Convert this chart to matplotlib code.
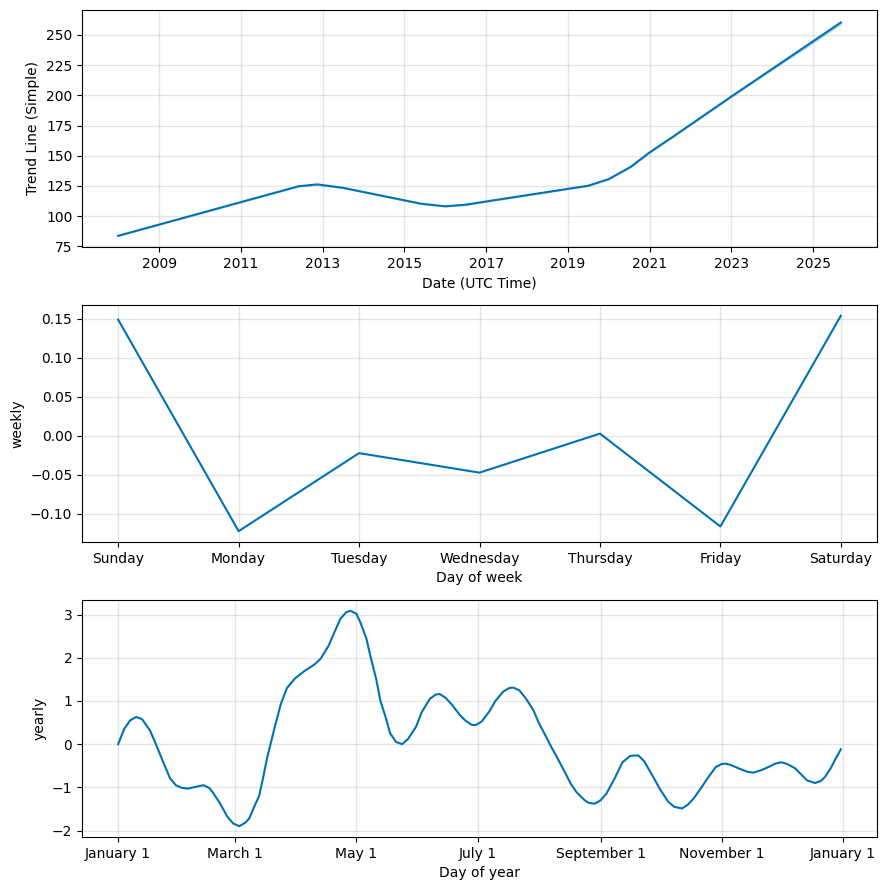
import matplotlib
matplotlib.use("Agg")
import matplotlib.pyplot as plt
import matplotlib.dates as mdates
import matplotlib.ticker as mticker
import pandas as pd

# trend component
trend_dates = ["2008-01-01", "2012-06-01", "2012-11-15", "2013-07-01", "2015-06-01",
               "2016-01-01", "2016-07-01", "2017-01-01", "2019-07-01", "2020-01-01",
               "2020-07-15", "2021-01-01", "2021-08-01", "2023-01-01", "2025-09-05"]
trend_values = [83.8, 124.8, 126.3, 123.5, 110.3, 108.2, 109.5, 112.2, 125.2, 130.7,
                140.8, 152.8, 166.0, 199.0, 260.2]
trend_lower = [83.8, 124.8, 126.3, 123.5, 110.3, 108.2, 109.5, 112.2, 125.2, 130.7,
               140.8, 152.8, 166.0, 198.8, 258.8]
trend_upper = [83.8, 124.8, 126.3, 123.5, 110.3, 108.2, 109.5, 112.2, 125.2, 130.7,
               140.8, 152.8, 166.0, 199.2, 261.4]
trend_tick_years = [2009, 2011, 2013, 2015, 2017, 2019, 2021, 2023, 2025]

# weekly component
week_days = ["Sunday", "Monday", "Tuesday", "Wednesday", "Thursday", "Friday", "Saturday"]
weekly_values = [0.149, -0.122, -0.022, -0.047, 0.003, -0.116, 0.154]

# yearly component (day offsets from Jan 1)
yearly_days = [
    0, 3, 6, 9, 12, 16, 19, 23, 26, 29,
    32, 35, 39, 43, 46, 48, 51, 55, 58, 61,
    64, 66, 69, 71, 73, 75, 79, 82, 85, 89,
    94, 99, 102, 106, 109, 112, 115, 117, 120, 122,
    125, 127, 130, 132, 135, 137, 140, 143, 146, 150,
    153, 157, 160, 162, 165, 168, 172, 175, 178, 180,
    183, 187, 190, 194, 197, 199, 202, 205, 209, 212,
    215, 218, 221, 225, 228, 231, 235, 237, 240, 243,
    246, 250, 254, 258, 262, 265, 269, 273, 277, 280,
    284, 287, 290, 294, 297, 301, 304, 306, 309, 313,
    317, 320, 324, 328, 331, 334, 337, 341, 344, 347,
    351, 354, 356, 359, 361, 364]
yearly_values = [
    0.0, 0.35, 0.55, 0.63, 0.58, 0.32, 0.0, -0.45, -0.78, -0.95,
    -1.01, -1.03, -0.99, -0.95, -1.02, -1.14, -1.35, -1.68, -1.84, -1.90,
    -1.82, -1.72, -1.40, -1.20, -0.78, -0.32, 0.42, 0.94, 1.30, 1.52,
    1.70, 1.85, 1.98, 2.28, 2.60, 2.91, 3.06, 3.09, 3.02, 2.82,
    2.45, 2.05, 1.50, 1.02, 0.58, 0.25, 0.05, 0.0, 0.12, 0.40,
    0.75, 1.05, 1.15, 1.16, 1.07, 0.92, 0.68, 0.54, 0.45, 0.44,
    0.52, 0.76, 1.00, 1.22, 1.30, 1.31, 1.25, 1.08, 0.80, 0.48,
    0.22, -0.05, -0.30, -0.65, -0.92, -1.12, -1.30, -1.36, -1.38, -1.30,
    -1.14, -0.80, -0.42, -0.27, -0.26, -0.40, -0.72, -1.05, -1.33, -1.45,
    -1.49, -1.40, -1.25, -0.99, -0.78, -0.53, -0.46, -0.45, -0.49, -0.57,
    -0.64, -0.66, -0.60, -0.52, -0.45, -0.42, -0.46, -0.56, -0.70, -0.84,
    -0.90, -0.85, -0.76, -0.55, -0.37, -0.12]

line_color = "#0072B2"

fig, axes = plt.subplots(3, 1, figsize=(8.86, 8.9), dpi=100)
fig.subplots_adjust(left=0.0926, right=0.9898, top=0.9888, bottom=0.0596, hspace=0.245)

# trend
ax = axes[0]
td = pd.to_datetime(trend_dates)
ax.plot(td, trend_values, ls="-", c=line_color)
ax.fill_between(td, trend_lower, trend_upper, color=line_color, alpha=0.2)
ax.set_xticks([pd.Timestamp(f"{y}-01-01") for y in trend_tick_years])
ax.xaxis.set_major_formatter(mdates.DateFormatter("%Y"))
ax.set_ylim(74.6, 270.6)
ax.grid(True, which="major", c="gray", ls="-", lw=1, alpha=0.2)
ax.set_xlabel("Date (UTC Time)")
ax.set_ylabel("Trend Line (Simple)")

# weekly
ax = axes[1]
ax.plot(range(len(week_days)), weekly_values, ls="-", c=line_color)
ax.set_xticks(range(len(week_days)))
ax.set_xticklabels(week_days)
ax.grid(True, which="major", c="gray", ls="-", lw=1, alpha=0.2)
ax.set_xlabel("Day of week")
ax.set_ylabel("weekly")

# yearly
ax = axes[2]
yd = pd.Timestamp("2017-01-01") + pd.to_timedelta(yearly_days, unit="D")
ax.plot(yd, yearly_values, ls="-", c=line_color)
ax.xaxis.set_major_locator(mdates.MonthLocator(bymonth=[1, 3, 5, 7, 9, 11], bymonthday=1))
ax.xaxis.set_major_formatter(
    mticker.FuncFormatter(lambda x, pos=None: "{dt:%B} {dt.day}".format(dt=mdates.num2date(x))))
ax.grid(True, which="major", c="gray", ls="-", lw=1, alpha=0.2)
ax.set_xlabel("Day of year")
ax.set_ylabel("yearly")

plt.savefig("out.png", dpi=100)
plt.close()
